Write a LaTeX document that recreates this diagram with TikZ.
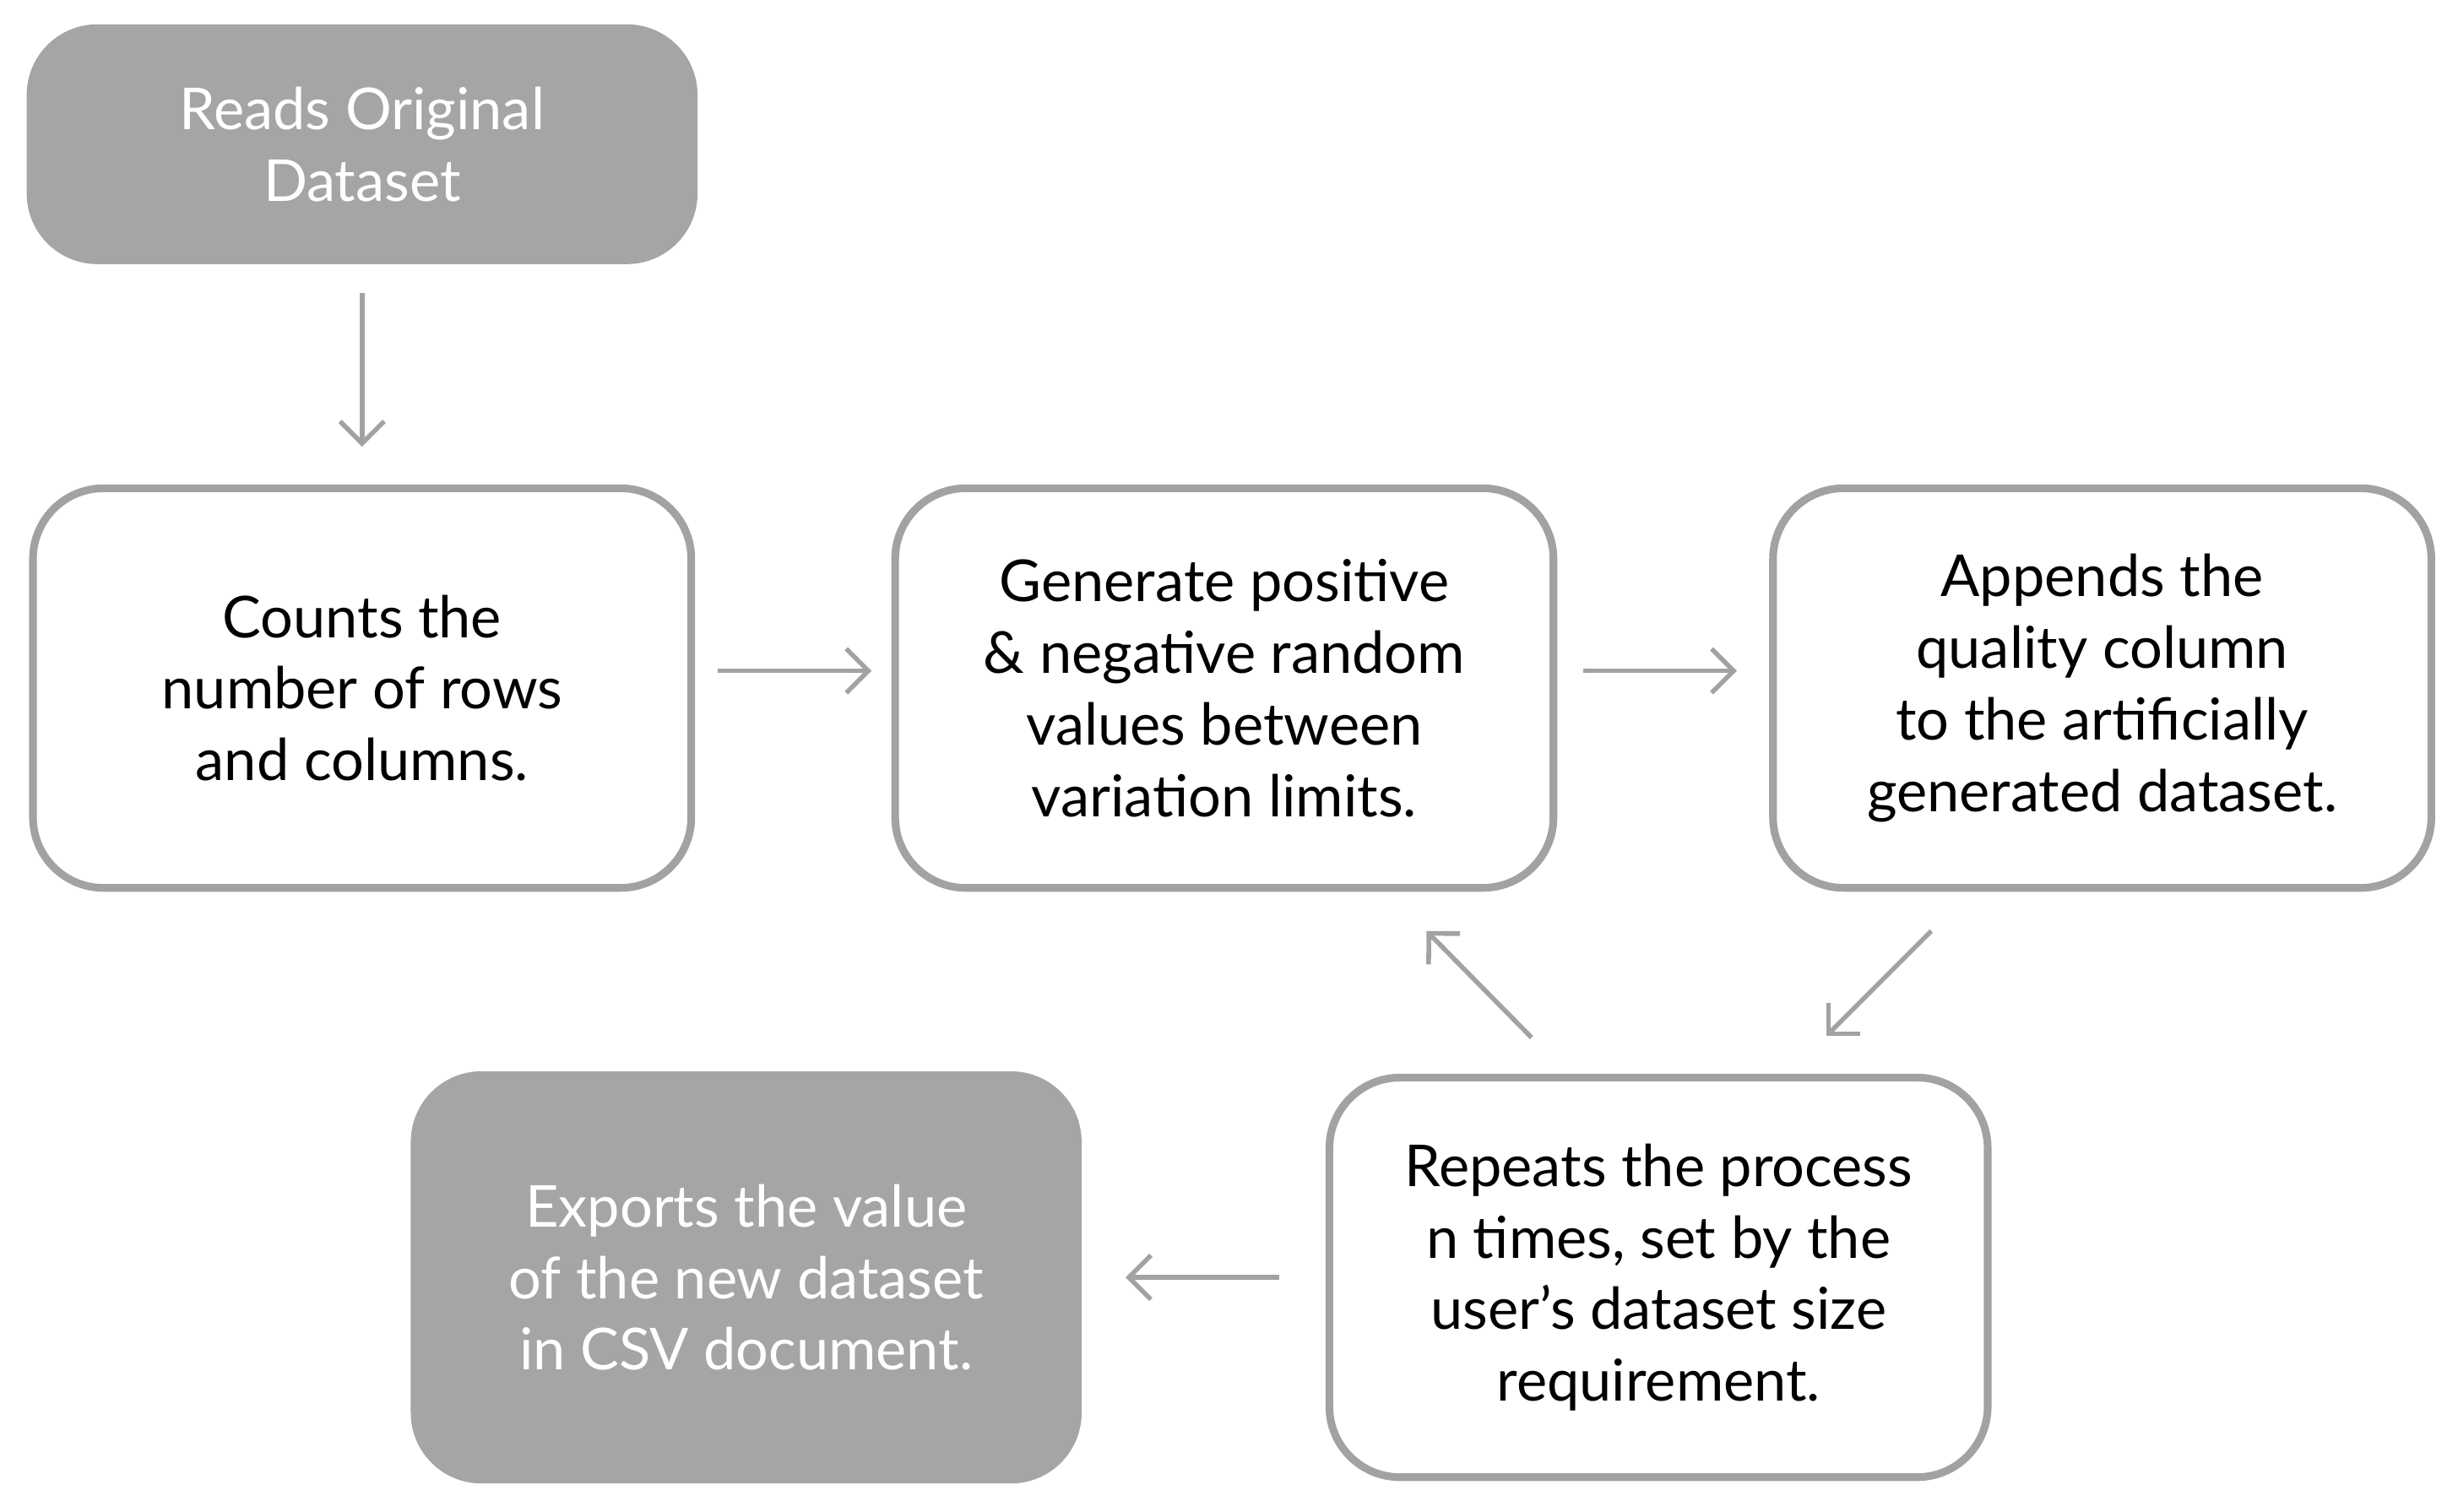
\documentclass[tikz,border=0pt]{standalone}
\usepackage{fontspec}
\setmainfont{Lato}
\usetikzlibrary{arrows.meta}
\definecolor{bx}{HTML}{A6A5A4}
\definecolor{ln}{HTML}{A3A2A1}
\begin{document}
\begin{tikzpicture}[x=0.02cm,y=-0.02cm,
 base/.style={rounded corners=0.9cm,align=center,font=\fontsize{21}{26}\selectfont,inner sep=0pt},
 dark/.style={base,fill=bx,text=white,minimum width=8.56cm,minimum height=3.06cm},
 light/.style={base,draw=ln,line width=2.8pt,fill=white,text=black,minimum width=8.4cm,minimum height=5.1cm},
 arr/.style={draw=ln,line width=1.7pt,-{Straight Barb[length=8pt,width=16pt,line width=1.7pt]}}]
\useasboundingbox (0,0) rectangle (1568,964.7);
\node[dark,minimum height=3.06cm] (read) at (231,92) {Reads Original\\Dataset};
\node[light] (count) at (231,439) {Counts the\\number of rows\\and columns.};
\node[light] (gen) at (781,439) {Generate positive\\\& negative random\\values between\\variation limits.};
\node[light] (app) at (1341,439) {Appends the\\quality column\\to the artificially\\generated dataset.};
\node[light] (rep) at (1058,815) {Repeats the process\\n times, set by the\\user’s dataset size\\requirement.};
\node[dark,minimum height=5.26cm] (exp) at (476,815) {Exports the value\\of the new dataset\\in CSV document.};
\coordinate (a1) at (231,187); \coordinate (a2) at (231,285);
\coordinate (b1) at (458,428); \coordinate (b2) at (556,428);
\coordinate (c1) at (1010,428); \coordinate (c2) at (1108,428);
\coordinate (d1) at (1232,594); \coordinate (d2) at (1165,661);
\coordinate (e1) at (977,662); \coordinate (e2) at (910,594);
\coordinate (f1) at (816,815); \coordinate (f2) at (718,815);
\draw[arr] (a1) -- (a2);
\draw[arr] (b1) -- (b2);
\draw[arr] (c1) -- (c2);
\draw[arr] (d1) -- (d2);
\draw[arr] (e1) -- (e2);
\draw[arr] (f1) -- (f2);
\end{tikzpicture}
\end{document}
